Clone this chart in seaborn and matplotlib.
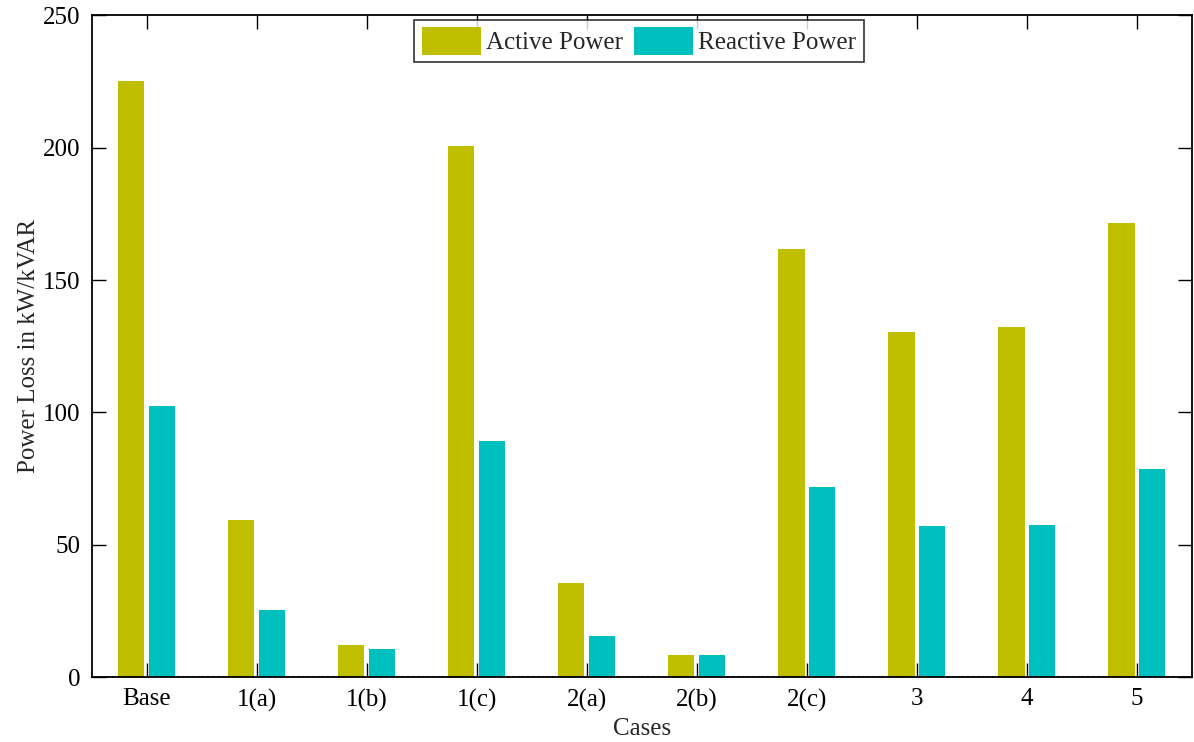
import matplotlib
matplotlib.use("Agg")
import matplotlib.pyplot as plt
import seaborn as sns
import pandas as pd

cases = ["Base", "1(a)", "1(b)", "1(c)", "2(a)", "2(b)", "2(c)", "3", "4", "5"]
active_power = [225.0, 59.3, 12.2, 200.5, 35.5, 8.4, 161.7, 130.3, 132.4, 171.7]
reactive_power = [102.5, 25.5, 10.7, 89.2, 15.6, 8.4, 72.0, 57.1, 57.6, 78.5]
series_names = ["Active Power", "Reactive Power"]
series_colors = ["#BFBF00", "#00BFBF"]
y_ticks = [0, 50, 100, 150, 200, 250]

df = pd.DataFrame({
    "Case": cases * 2,
    "Loss": active_power + reactive_power,
    "Type": [series_names[0]] * len(cases) + [series_names[1]] * len(cases),
})

sns.set_theme(style="ticks")
plt.rcParams["font.family"] = ["Liberation Serif", "DejaVu Serif"]
plt.rcParams["font.size"] = 18

fig = plt.figure(figsize=(11.94, 7.42), dpi=100)
ax = fig.add_axes([91.5 / 1194, 1 - 677.3 / 742, (1192 - 91.5) / 1194, (677.3 - 15.3) / 742])

sns.barplot(data=df, x="Case", y="Loss", hue="Type", order=cases,
            hue_order=series_names, palette=series_colors, width=0.56, gap=0.15,
            saturation=1, edgecolor="none", ax=ax)

# dotted baseline shows over the first series only
for bar in ax.containers[1]:
    bar.set_zorder(3)
ax.axhline(0, color="black", linestyle=(0, (1.5, 1.5)), linewidth=1.2, zorder=2.5)

ax.set_xlim(-0.5, 9.5)
ax.set_ylim(0, 250)
ax.set_yticks(y_ticks)
ax.set_xlabel("Cases", fontsize=18, labelpad=4.5)
ax.set_ylabel("Power Loss in kW/kVAR", fontsize=18, labelpad=2)

for side in ["top", "right", "left", "bottom"]:
    ax.spines[side].set_visible(True)
    ax.spines[side].set_linewidth(1.3)
    ax.spines[side].set_color("black")
    ax.spines[side].set_zorder(4)

ax.tick_params(axis="both", direction="in", length=10, width=1.0, labelsize=18,
               top=True, right=True, colors="black")
ax.tick_params(axis="x", pad=8)
ax.tick_params(axis="y", pad=8)

leg = ax.legend(loc="upper center", bbox_to_anchor=(0.4975, 0.993), ncol=2,
                fontsize=18, frameon=True, fancybox=False, edgecolor="black",
                handlelength=2.36, handleheight=1.3, handletextpad=0.2,
                columnspacing=0.45, borderpad=0.3, borderaxespad=0.0)
leg.get_frame().set_linewidth(1.2)

fig.savefig("out.png", dpi=100, facecolor="white")
